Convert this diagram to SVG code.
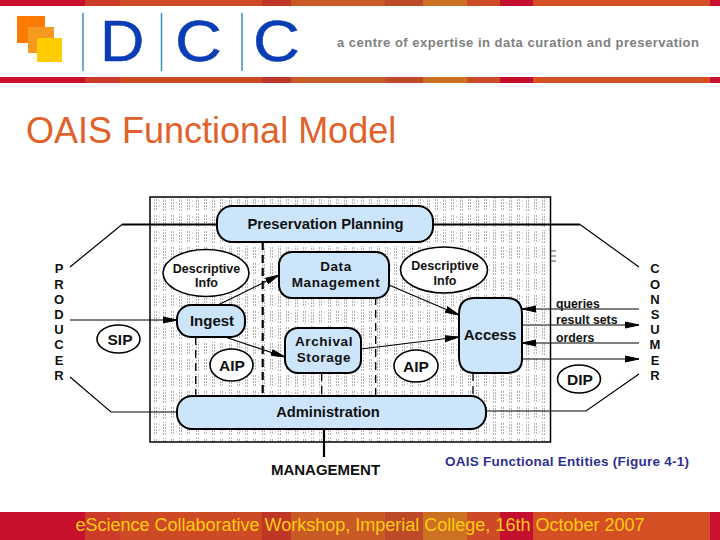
<svg xmlns="http://www.w3.org/2000/svg" width="720" height="540" viewBox="0 0 720 540">
<style>
text{font-family:"Liberation Sans",Arial,sans-serif}
.b{font-weight:bold;fill:#111;text-anchor:middle}
.n{fill:#cce5fb;stroke:#000;stroke-width:2}
.e{fill:#fff;stroke:#000;stroke-width:1.6}
.l{fill:none;stroke:#000;stroke-width:1.2}
.t{fill:none;stroke:#000;stroke-width:2.2}
.a{fill:none;stroke:#000;stroke-width:1.2;marker-end:url(#arr)}
.d{fill:none;stroke:#000}
.s{font-size:13.500px;letter-spacing:.6px}
</style>
<defs>
<marker id="arr" markerUnits="userSpaceOnUse" markerWidth="16" markerHeight="10" refX="14" refY="5" orient="auto"><path d="M0 2L14 5L0 8z" fill="#000" stroke="#000" stroke-width="1"/></marker>
<pattern id="col" patternUnits="userSpaceOnUse" x="0" y="197" width="33" height="3">
<g fill="#b4b4b4"><rect x="4" y="0" width="1" height="2"/><rect x="6" y="0" width="1" height="2"/><rect x="13" y="1" width="1" height="2"/><rect x="15" y="1" width="1" height="2"/><rect x="21" y="0" width="1" height="2"/><rect x="23" y="0" width="1" height="2"/><rect x="29" y="1" width="1" height="2"/><rect x="31" y="1" width="1" height="2"/></g>
</pattern>
<pattern id="dots" patternUnits="userSpaceOnUse" x="150" y="197" width="33" height="16">
<rect width="33" height="13" y="1" fill="url(#col)"/>
<g fill="#d4d4d4"><rect x="4" y="14" width="1" height="1"/><rect x="22" y="14" width="1" height="1"/><rect x="9" y="3" width="1" height="2"/><rect x="9" y="8" width="1" height="2"/><rect x="26" y="5" width="1" height="2"/><rect x="26" y="10" width="1" height="2"/></g>
</pattern>
<g id="bands">
<rect x="0" width="85" height="1" fill="#c80f2e"/><rect x="85" width="35" height="1" fill="#cc3a2a"/><rect x="120" width="142" height="1" fill="#ce4a24"/><rect x="262" width="29" height="1" fill="#bf3526"/><rect x="291" width="94" height="1" fill="#c85a26"/><rect x="385" width="38" height="1" fill="#bd4a28"/><rect x="423" width="44" height="1" fill="#cc7022"/><rect x="467" width="33" height="1" fill="#cd4a26"/><rect x="500" width="33" height="1" fill="#c4102e"/><rect x="533" width="177" height="1" fill="#d44f24"/><rect x="710" width="10" height="1" fill="#cc1030"/>
</g>
</defs>
<rect width="720" height="540" fill="#fff"/>
<g id="header">
<use href="#bands" transform="scale(1 6)"/>
<use href="#bands" transform="translate(0 77) scale(1 6)"/>
<rect x="17" y="16" width="28" height="27" fill="#ff7a00"/>
<rect x="28" y="27" width="26" height="26" fill="#f59a20"/>
<rect x="37" y="38" width="25" height="24" fill="#ffcc00"/>
<path d="M83 13V71M161.500 13V71M242 13V71" stroke="#3a8fc0" stroke-width="1.500" fill="none"/>
<g font-size="58" fill="#0a3db5" stroke="#0a3db5" stroke-width=".5">
<text transform="translate(100 60.500) scale(1.060 1)">D</text>
<text transform="translate(175 60.500) scale(1.120 1)">C</text>
<text transform="translate(253 60.500) scale(1.120 1)">C</text></g>
<text x="699" y="47" text-anchor="end" font-size="13" font-weight="bold" fill="#808080" textLength="362" lengthAdjust="spacing">a centre of expertise in data curation and preservation</text>
</g>
<text id="title" x="26" y="143" font-size="36" fill="#e0622a">OAIS Functional Model</text>
<rect id="panel" x="150" y="197" width="400.500" height="245" fill="url(#dots)" stroke="#000" stroke-width="1.500"/>
<path d="M551 251H556M551 256H556M551 261H556" stroke="#555" stroke-width="1" fill="none"/>
<g id="connectors">
<path class="t" d="M122 224.500H217"/><path class="l" d="M70 267L122 224.500"/>
<path class="t" d="M433 224.500H580"/><path class="l" d="M580 224.500L639 267"/>
<path class="a" d="M70 320H177"/>
<path class="a" d="M218 305L279 275"/>
<path class="a" d="M225 337L285 357"/>
<path class="a" d="M361 349L459 337"/>
<path class="a" d="M389 285L459 315"/>
<path class="a" d="M639 309H522"/>
<path class="a" d="M522 325H639"/>
<path class="a" d="M639 343H522"/>
<path class="a" d="M522 359H639"/>
<path class="l" d="M70 377L111 412H177"/>
<path class="l" d="M486 411H586L639 374"/>
<path class="t" d="M324 429V457"/>
<path class="d" stroke-width="2.200" stroke-dasharray="8 5" d="M262.700 242V396"/>
<path class="d" stroke-width="1.300" stroke-dasharray="8 5" d="M195.700 337V396M321.700 373V396M375.700 297V396M473 373V396"/>
</g>
<g id="preservation-planning"><rect class="n" x="217" y="206" width="216" height="36" rx="15"/><text class="b" x="325.500" y="229" font-size="14.800">Preservation Planning</text></g>
<g id="data-management"><rect class="n" x="279" y="252" width="110" height="46" rx="13"/><text class="b s" x="336" y="271">Data</text><text class="b s" x="336" y="286.500">Management</text></g>
<g id="descriptive-left"><ellipse class="e" cx="206" cy="273" rx="43" ry="23.500"/><text class="b" x="206.500" y="273" font-size="12.500">Descriptive</text><text class="b" x="206.500" y="287" font-size="12.500">Info</text></g>
<g id="descriptive-right"><ellipse class="e" cx="444" cy="270" rx="43.500" ry="23"/><text class="b" x="445" y="270" font-size="12.500">Descriptive</text><text class="b" x="445" y="285" font-size="12.500">Info</text></g>
<g id="ingest"><rect class="n" x="177" y="305" width="68" height="32" rx="14"/><text class="b" x="212" y="326" font-size="15">Ingest</text></g>
<g id="archival-storage"><rect class="n" x="285" y="328" width="76" height="45" rx="13"/><text class="b s" x="324" y="346">Archival</text><text class="b s" x="324" y="361.500">Storage</text></g>
<g id="access"><path class="n" d="M522 359V314Q522 298 506 298H475Q459 298 459 314V357Q459 373 475 373H506Q522 373 522 359Z"/><text class="b" x="490" y="340" font-size="15">Access</text></g>
<g id="administration"><rect class="n" x="177" y="396" width="309" height="33" rx="15"/><text class="b" x="328" y="417" font-size="14.700">Administration</text></g>
<g id="sip"><ellipse class="e" cx="118.500" cy="339" rx="21.500" ry="14"/><text class="b" x="120" y="345" font-size="15.500">SIP</text></g>
<g id="aip-left"><ellipse class="e" cx="231.500" cy="365" rx="21.500" ry="16"/><text class="b" x="232" y="371" font-size="15.500">AIP</text></g>
<g id="aip-right"><ellipse class="e" cx="416" cy="366" rx="22" ry="16"/><text class="b" x="416" y="372" font-size="15.500">AIP</text></g>
<g id="dip"><ellipse class="e" cx="579" cy="379" rx="21.500" ry="14"/><text class="b" x="580" y="385" font-size="15.500">DIP</text></g>
<g id="producer" class="b" font-size="13"><text x="59" y="273">P</text><text x="59" y="289">R</text><text x="59" y="304">O</text><text x="59" y="319">D</text><text x="59" y="334">U</text><text x="59" y="349">C</text><text x="59" y="365">E</text><text x="59" y="380">R</text></g>
<g id="consumer" class="b" font-size="13"><text x="655" y="273">C</text><text x="655" y="289">O</text><text x="655" y="304">N</text><text x="655" y="319">S</text><text x="655" y="334">U</text><text x="655" y="349">M</text><text x="655" y="365">E</text><text x="655" y="380">R</text></g>
<g font-weight="bold" fill="#111" font-size="12.300"><text x="556" y="308">queries</text><text x="556" y="324">result sets</text><text x="556" y="342">orders</text></g>
<text class="b" x="325.500" y="475" font-size="15">MANAGEMENT</text>
<text x="567" y="466" text-anchor="middle" font-size="13.500" font-weight="bold" fill="#2f2f8f" textLength="244" lengthAdjust="spacing">OAIS Functional Entities (Figure 4-1)</text>
<g id="footer">
<use href="#bands" transform="translate(0 512) scale(1 28)"/>
<text x="360" y="531" text-anchor="middle" font-size="18" fill="#ffcc11">eScience Collaborative Workshop, Imperial College, 16th October 2007</text>
</g>
</svg>
